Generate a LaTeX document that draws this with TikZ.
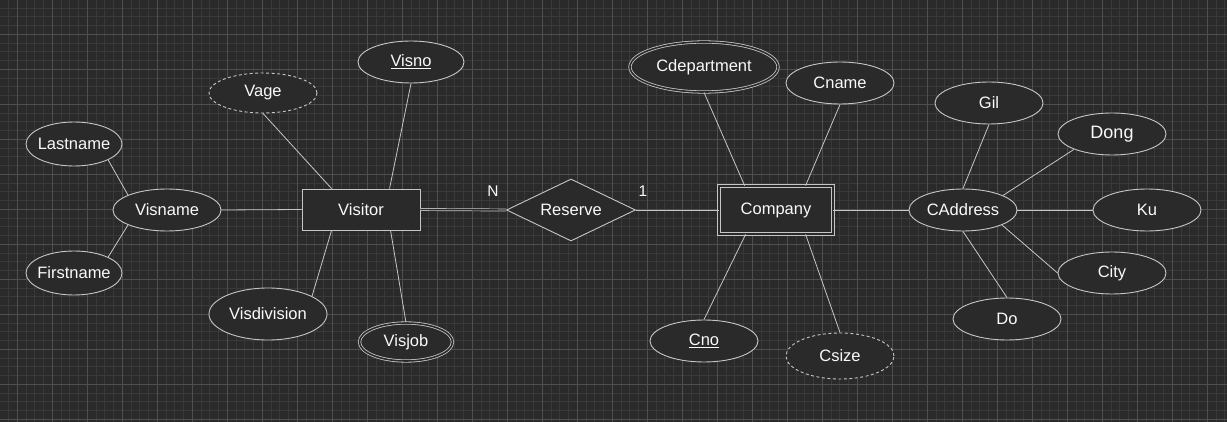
\documentclass[tikz,border=0pt]{standalone}
\usepackage{fontspec}
\setmainfont{Liberation Sans}
\usetikzlibrary{shapes.geometric}
\definecolor{bgc}{HTML}{2A2A2A}
\definecolor{minorc}{HTML}{393939}
\definecolor{majorc}{HTML}{4F4F4F}
\definecolor{strokec}{HTML}{C6C6C6}
\definecolor{textc}{HTML}{FAFAFA}
\newcommand{\tx}[1]{\makebox[0pt]{#1}}
\tikzset{
  attr/.style={ellipse, draw=strokec, fill=bgc, line width=0.9pt, inner sep=0pt, text=textc,
    font=\fontsize{16.5}{19}\selectfont},
  dbl/.style={double=bgc, double distance=1.6pt, line width=0.8pt},
  dashattr/.style={dash pattern=on 3pt off 2.5pt},
  entbox/.style={rectangle, draw=strokec, fill=bgc, line width=0.9pt, inner sep=0pt, text=textc,
    font=\fontsize{16.5}{19}\selectfont},
  relbox/.style={diamond, draw=strokec, fill=bgc, line width=0.9pt, inner sep=0pt, text=textc,
    font=\fontsize{16.5}{19}\selectfont},
  conn/.style={draw=strokec, line width=0.8pt},
  card/.style={text=textc, font=\fontsize{15.5}{18}\selectfont, inner sep=0pt},
  minorline/.style={draw=minorc, line width=0.8pt},
  majorline/.style={draw=majorc, line width=0.9pt}
}
\begin{document}
\begin{tikzpicture}[x=1pt,y=-1pt]
\useasboundingbox (0,0) rectangle (1227,422);
\fill[bgc] (0,0) rectangle (1227,422);
% grid
\foreach \i in {-2,...,138} \draw[minorline] ({17.3+8.75*\i},0) -- ++(0,422);
\foreach \i in {-4,...,44} \draw[minorline] (0,{34.3+8.75*\i}) -- ++(1227,0);
\foreach \i in {-1,...,35} \draw[majorline] ({17.3+35*\i},0) -- ++(0,422);
\foreach \i in {-1,...,11} \draw[majorline] (0,{34.3+35*\i}) -- ++(1227,0);

% Visitor side
\node[entbox, minimum width=118pt, minimum height=41pt] (vis) at (361,209.5) {\tx{Visitor}};
\node[attr, minimum width=96pt, minimum height=44pt] (ln) at (74,144) {\tx{Lastname}};
\node[attr, minimum width=108pt, minimum height=42pt] (vn) at (167,210) {\tx{Visname}};
\node[attr, minimum width=96pt, minimum height=44pt] (fn) at (74,273) {\tx{Firstname}};
\node[attr, dashattr, minimum width=108pt, minimum height=40pt] (vage) at (263,93) {\tx{Vage}};
\node[attr, minimum width=106pt, minimum height=42pt] (visno) at (411,62) {\tx{\underline{Visno}}};
\node[attr, minimum width=118pt, minimum height=52pt] (vd) at (268,314) {\tx{Visdivision}};
\node[attr, dbl, minimum width=93pt, minimum height=38pt] (vj) at (406,342) {\tx{Visjob}};

% Relationship
\node[relbox, minimum width=129pt, minimum height=62pt] (res) at (571,210) {\tx{Reserve}};
\node[card] (lN) at (493,191) {N};
\node[card] (l1) at (643,191) {1};

% Company side
\node[entbox, dbl, double distance=2.6pt, minimum width=114pt, minimum height=48pt] (co) at (776,210) {\tx{Company}};
\node[attr, dbl, minimum width=148pt, minimum height=50pt] (cd) at (704,67) {\tx{Cdepartment}};
\node[attr, minimum width=108pt, minimum height=42pt] (cn) at (840,83) {\tx{Cname}};
\node[attr, minimum width=108pt, minimum height=42pt] (cno) at (704,341) {\tx{\underline{Cno}}};
\node[attr, dashattr, minimum width=108pt, minimum height=46pt] (cs) at (840,356) {\tx{Csize}};

% Address
\node[attr, minimum width=108pt, minimum height=42pt] (ca) at (963,210) {\tx{CAddress}};
\node[attr, minimum width=108pt, minimum height=42pt] (gil) at (989,103) {\tx{Gil}};
\node[attr, minimum width=108pt, minimum height=42pt, font=\fontsize{18}{21}\selectfont] (dong) at (1112,134) {\tx{Dong}};
\node[attr, minimum width=108pt, minimum height=42pt] (ku) at (1147,210) {\tx{Ku}};
\node[attr, minimum width=108pt, minimum height=42pt] (city) at (1112,273) {\tx{City}};
\node[attr, minimum width=108pt, minimum height=42pt] (do) at (1007,319) {\tx{Do}};

% connectors - Visitor
\draw[conn] (ln.-25) -- (vn.159);
\draw[conn] (fn.25) -- (vn.201);
\draw[conn] (vn.east) -- (vis.west);
\draw[conn] (vage.south) -- ([xshift=30pt]vis.north west);
\draw[conn] (visno.south) -- ([xshift=88pt]vis.north west);
\draw[conn] (vd.22) -- ([xshift=30pt]vis.south west);
\draw[conn] (vj.north) -- ([xshift=89pt]vis.south west);
\draw[conn, double=bgc, double distance=1.4pt, line width=0.7pt] (vis.east) -- (res.west);
\draw[conn] (res.east) -- (co.west);

% connectors - Company
\draw[conn] (cd.south) -- ([xshift=26pt]co.north west);
\draw[conn] (cn.south) -- ([xshift=87pt]co.north west);
\draw[conn] (cno.north) -- ([xshift=27pt]co.south west);
\draw[conn] (cs.north) -- ([xshift=87pt]co.south west);
\draw[conn] (co.east) -- (ca.west);

% connectors - Address
\draw[conn] (gil.south) -- (ca.north);
\draw[conn] (dong.202) -- (ca.20);
\draw[conn] (ca.east) -- (ku.west);
\draw[conn] (ca.-21) -- (city.west);
\draw[conn] (ca.south) -- (do.north);
\end{tikzpicture}
\end{document}
